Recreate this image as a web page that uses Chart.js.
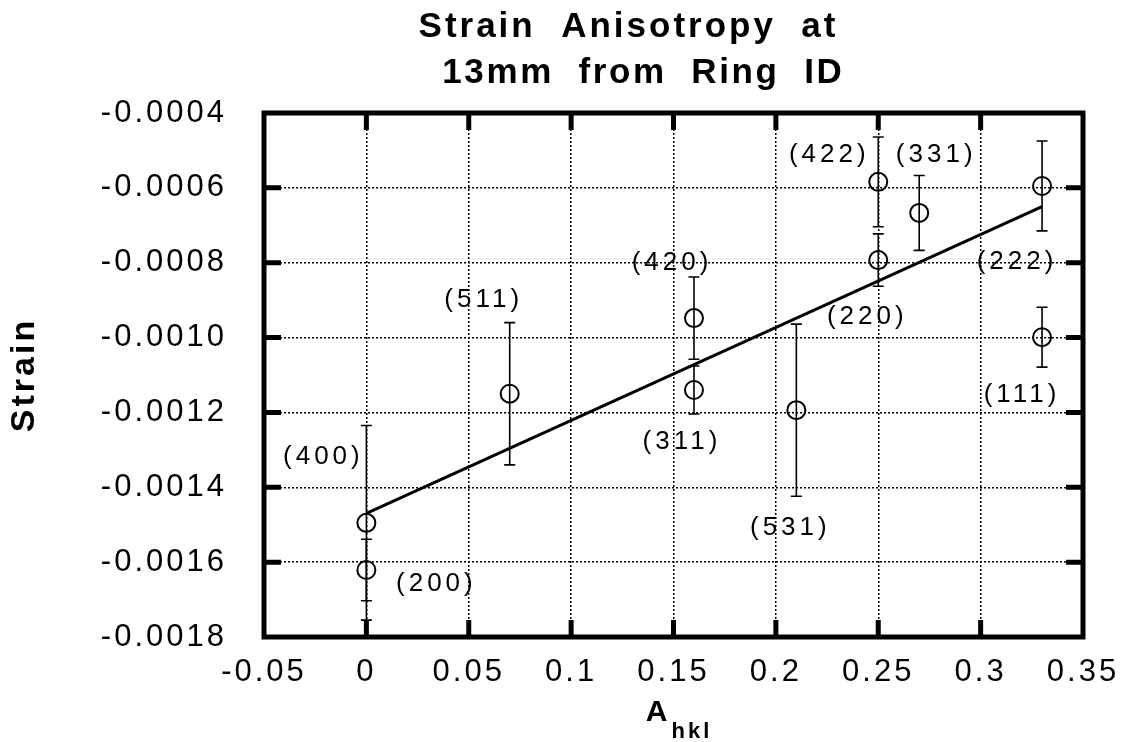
<!DOCTYPE html>
<html><head><meta charset="utf-8">
<script src="https://cdn.jsdelivr.net/npm/chart.js@4/dist/chart.umd.min.js"></script>
<style>html,body{margin:0;padding:0;background:#fff;}#wrap{width:1138px;height:742px;}</style>
</head><body><div id="wrap"><canvas id="c" width="1138" height="742"></canvas></div>
<script>
// ---- data ----
const planes = ['(400)','(200)','(511)','(420)','(311)','(531)','(422)','(220)','(331)','(222)','(111)'];
const aHkl = [0, 0, 0.07, 0.16, 0.16, 0.21, 0.25, 0.25, 0.27, 0.33, 0.33];
const strain = [-0.001495, -0.001621, -0.00115, -0.000948, -0.00114, -0.001194, -0.000584, -0.000793, -0.000667, -0.000595, -0.000999];
const strainErr = [0.00026, 0.000082, 0.00019, 0.00011, 0.000064, 0.00023, 0.00012, 0.00007, 0.0001, 0.00012, 0.00008];
const fitX = [0, 0.33];
const fitY = [-0.00147, -0.00065];
const xTicks = [-0.05, 0, 0.05, 0.1, 0.15, 0.2, 0.25, 0.3, 0.35];
const xTickLabels = ['-0.05', '0', '0.05', '0.1', '0.15', '0.2', '0.25', '0.3', '0.35'];
const yTicks = [-0.0018, -0.0016, -0.0014, -0.0012, -0.0010, -0.0008, -0.0006, -0.0004];
const yTickLabels = ['-0.0018', '-0.0016', '-0.0014', '-0.0012', '-0.0010', '-0.0008', '-0.0006', '-0.0004'];
const titleLines = ['Strain  Anisotropy  at', '13mm  from  Ring  ID'];
const yTitle = 'Strain';
const xTitleMain = 'A';
const xTitleSub = 'hkl';

// label placement (pixel offsets from each point)
const labelOffsets = [[-45,-66],[68,14],[-28,-94],[-24,-55],[-14,52],[-8,118],[-51,-27],[-13,57],[15,-58],[-27,76],[-22,58]];

const FONT = "'Liberation Sans', Arial, Helvetica, sans-serif";

const spacing = {
  id: 'spacing',
  beforeLayout(chart) { chart.ctx.letterSpacing = '3px'; },
  beforeDraw(chart) { chart.ctx.letterSpacing = '3px'; }
};

function drawSpaced(ctx, text, x, y, ls, align) {
  ctx.letterSpacing = ls + 'px';
  ctx.textAlign = align;
  let dx = 0;
  if (align === 'center') dx = ls / 2;
  else if (align === 'right') dx = ls;
  ctx.fillText(text, x + dx, y);
}

const overlay = {
  id: 'overlay',
  beforeDatasetsDraw(chart) {
    const ctx = chart.ctx, xs = chart.scales.x, ys = chart.scales.y;
    ctx.save();
    ctx.strokeStyle = '#000';
    ctx.lineWidth = 1.6;
    ctx.setLineDash([]);
    for (let i = 0; i < aHkl.length; i++) {
      const px = xs.getPixelForValue(aHkl[i]);
      const pt = ys.getPixelForValue(strain[i] + strainErr[i]);
      const pb = ys.getPixelForValue(strain[i] - strainErr[i]);
      ctx.beginPath();
      ctx.moveTo(px, pt); ctx.lineTo(px, pb);
      ctx.moveTo(px - 5.5, pt); ctx.lineTo(px + 5.5, pt);
      ctx.moveTo(px - 5.5, pb); ctx.lineTo(px + 5.5, pb);
      ctx.stroke();
    }
    ctx.restore();
  },
  afterDraw(chart) {
    const ctx = chart.ctx, xs = chart.scales.x, ys = chart.scales.y;
    const a = chart.chartArea;
    ctx.save();
    ctx.setLineDash([]);
    ctx.strokeStyle = '#000';
    // frame
    ctx.lineWidth = 5;
    ctx.strokeRect(a.left, a.top, a.right - a.left, a.bottom - a.top);
    // inward ticks
    ctx.lineWidth = 5;
    ctx.beginPath();
    xTicks.forEach(v => {
      if (v <= xs.min || v >= xs.max) return;
      const p = xs.getPixelForValue(v);
      ctx.moveTo(p, a.bottom); ctx.lineTo(p, a.bottom - 17);
      ctx.moveTo(p, a.top); ctx.lineTo(p, a.top + 17);
    });
    yTicks.forEach(v => {
      if (v <= ys.min + 1e-12 || v >= ys.max - 1e-12) return;
      const p = ys.getPixelForValue(v);
      ctx.moveTo(a.left, p); ctx.lineTo(a.left + 17, p);
      ctx.moveTo(a.right, p); ctx.lineTo(a.right - 17, p);
    });
    ctx.stroke();
    // point labels
    ctx.fillStyle = '#000';
    ctx.textBaseline = 'middle';
    ctx.font = '26px ' + FONT;
    for (let i = 0; i < planes.length; i++) {
      const px = xs.getPixelForValue(aHkl[i]) + labelOffsets[i][0];
      const py = ys.getPixelForValue(strain[i]) + labelOffsets[i][1];
      drawSpaced(ctx, planes[i], px, py, 4, 'center');
    }
    // main title
    ctx.textBaseline = 'alphabetic';
    ctx.font = 'bold 35px ' + FONT;
    drawSpaced(ctx, titleLines[0], a.left + 363, 37, 3, 'center');
    drawSpaced(ctx, titleLines[1], a.left + 378, 83, 2.6, 'center');
    // x axis title with subscript
    const xc = (a.left + a.right) / 2;
    ctx.font = 'bold 30px ' + FONT;
    drawSpaced(ctx, xTitleMain, xc - 17, 721, 0, 'center');
    ctx.font = 'bold 22px ' + FONT;
    drawSpaced(ctx, xTitleSub, xc - 2, 738, 3, 'left');
    ctx.restore();
  }
};

const scatterData = aHkl.map((x, i) => ({ x: x, y: strain[i] }));
const fitData = fitX.map((x, i) => ({ x: x, y: fitY[i] }));

const gridOpts = { color: '#000', lineWidth: 1.5, drawTicks: false };
const borderOpts = { display: false, dash: [2, 2] };

new Chart(document.getElementById('c'), {
  type: 'scatter',
  data: {
    datasets: [
      { label: 'Strain', data: scatterData, pointStyle: 'circle', pointRadius: 9, pointBorderWidth: 2,
        borderColor: '#000', backgroundColor: 'rgba(0,0,0,0)', pointBackgroundColor: 'rgba(0,0,0,0)', showLine: false },
      { type: 'line', label: 'Fit', data: fitData, borderColor: '#000', borderWidth: 3, pointRadius: 0, fill: false, tension: 0 }
    ]
  },
  options: {
    responsive: false, animation: false, devicePixelRatio: 1,
    layout: { padding: { left: 4, right: 55, top: 113, bottom: 0 } },
    plugins: { legend: { display: false }, title: { display: false }, tooltip: { enabled: false } },
    scales: {
      x: {
        type: 'linear', min: -0.05, max: 0.35,
        afterBuildTicks: s => { s.ticks = xTicks.map(v => ({ value: v })); },
        afterFit: s => { s.height = 105; },
        ticks: { callback: (v, i) => xTickLabels[i], color: '#000', font: { family: FONT, size: 31 }, padding: 17, maxRotation: 0, autoSkip: false },
        grid: gridOpts, border: borderOpts
      },
      y: {
        type: 'linear', min: -0.0018, max: -0.0004,
        afterBuildTicks: s => { s.ticks = yTicks.map(v => ({ value: v })); },
        afterFit: s => { s.width = 260; },
        ticks: { callback: (v, i) => yTickLabels[i], color: '#000', font: { family: FONT, size: 31 }, padding: 37, autoSkip: false },
        title: { display: true, text: yTitle, color: '#000', font: { family: FONT, size: 34, weight: 'bold' }, padding: 0 },
        grid: gridOpts, border: borderOpts
      }
    }
  },
  plugins: [spacing, overlay]
});
</script>
</body></html>
